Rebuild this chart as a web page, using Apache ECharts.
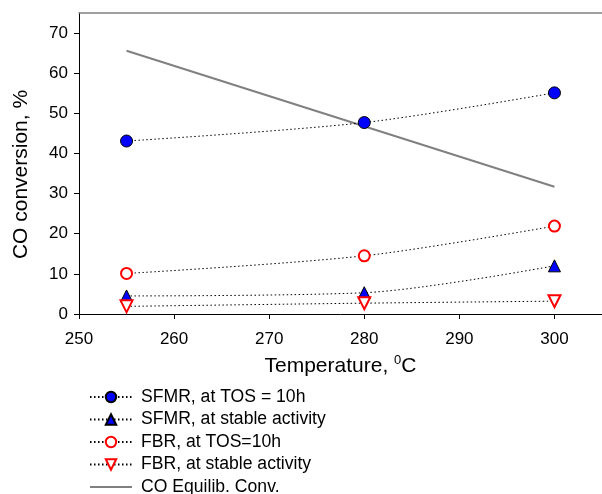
<!DOCTYPE html>
<html><head><meta charset="utf-8">
<script src="https://cdn.jsdelivr.net/npm/echarts@6/dist/echarts.min.js"></script>
<style>html,body{margin:0;padding:0;background:#fff}#c{width:602px;height:494px}</style>
</head><body><div id="c"></div>
<script>
const temps = [255, 280, 300];
const sfmrTos10 = [43.1, 47.7, 55.1];
const sfmrStable = [4.5, 5.3, 12.0];
const fbrTos10 = [10.1, 14.5, 21.9];
const fbrStable = [1.9, 2.7, 3.2];
const equilTemps = [255, 300];
const equilConv = [65.6, 31.7];
const xTicks = [250, 260, 270, 280, 290, 300];
const yTicks = [0, 10, 20, 30, 40, 50, 60, 70];
const names = ['SFMR, at TOS = 10h', 'SFMR, at stable activity', 'FBR, at TOS=10h', 'FBR, at stable activity', 'CO Equilib. Conv.'];

const pairs = (xs, ys) => xs.map((x, i) => [x, ys[i]]);
const font = 'Liberation Sans, Arial, sans-serif';
const dotted = { color: '#000', width: 1, type: [1.5, 2.5] };

const chart = echarts.init(document.getElementById('c'), null, { renderer: 'canvas' });
chart.setOption({
  animation: false,
  backgroundColor: '#fff',
  textStyle: { fontFamily: font },
  grid: { left: 79, right: 0, top: 13, bottom: 180, containLabel: false },
  legend: {
    orient: 'vertical', left: 84, top: 383, height: 160,
    itemWidth: 42, itemHeight: 13, itemGap: 4.5,
    textStyle: { fontFamily: font, fontSize: 17.6, color: '#000', lineHeight: 18, padding: [0, 0, 0, 4] },
    data: names
  },
  xAxis: [{
    type: 'value', min: 250, max: 305,
    name: 'Temperature, {sup|0}C', nameLocation: 'middle', nameGap: 40,
    nameTextStyle: { fontFamily: font, fontSize: 21, color: '#000',
      rich: { sup: { fontFamily: font, fontSize: 13, color: '#000', verticalAlign: 'top', padding: [0, 0, 12, 0] } } },
    axisLine: { show: true, onZero: false, lineStyle: { color: '#000', width: 1 } },
    axisTick: { show: true, inside: false, length: 5, customValues: xTicks, lineStyle: { color: '#000' } },
    axisLabel: { customValues: xTicks, fontFamily: font, fontSize: 17, color: '#000', margin: 17 },
    splitLine: { show: false }
  }, {
    type: 'value', position: 'top', min: 250, max: 305,
    axisLine: { show: true, onZero: false, lineStyle: { color: '#808080', width: 1.5 } },
    axisTick: { show: false }, axisLabel: { show: false }, splitLine: { show: false }
  }],
  yAxis: {
    type: 'value', min: 0, max: 75,
    name: 'CO conversion, %', nameLocation: 'middle', nameGap: 47, nameRotate: 90,
    nameTextStyle: { fontFamily: font, fontSize: 21, color: '#000', padding: [0, 22, 0, 0] },
    axisLine: { show: true, onZero: false, lineStyle: { color: '#000', width: 1 } },
    axisTick: { show: true, inside: false, length: 5, customValues: yTicks, lineStyle: { color: '#000' } },
    axisLabel: { customValues: yTicks, fontFamily: font, fontSize: 17, color: '#000', margin: 11 },
    splitLine: { show: false }
  },
  series: [
    { name: names[4], type: 'line', data: pairs(equilTemps, equilConv), symbol: 'circle', showSymbol: false, z: 1,
      lineStyle: { color: '#808080', width: 2 }, itemStyle: { color: 'rgba(0,0,0,0)', borderWidth: 0 } },
    { name: names[0], type: 'line', data: pairs(temps, sfmrTos10), smooth: 0.3, symbol: 'circle', symbolSize: 12,
      lineStyle: dotted, itemStyle: { color: '#0000ff', borderColor: '#000', borderWidth: 1 } },
    { name: names[1], type: 'line', data: pairs(temps, sfmrStable), smooth: 0.3, symbol: 'triangle', symbolSize: 12,
      lineStyle: dotted, itemStyle: { color: '#0000ff', borderColor: '#000', borderWidth: 1 } },
    { name: names[2], type: 'line', data: pairs(temps, fbrTos10), smooth: 0.3, symbol: 'circle', symbolSize: 11,
      lineStyle: dotted, itemStyle: { color: '#fff', borderColor: '#ff0000', borderWidth: 2 } },
    { name: names[3], type: 'line', data: pairs(temps, fbrStable), smooth: 0.3, symbol: 'triangle', symbolRotate: 180, symbolSize: 12,
      lineStyle: dotted, itemStyle: { color: '#fff', borderColor: '#ff0000', borderWidth: 2 } }
  ]
});
</script></body></html>
